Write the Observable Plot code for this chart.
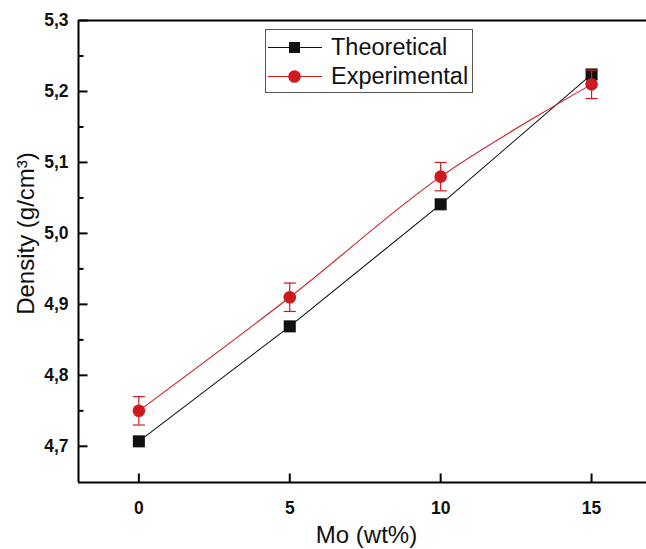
<!DOCTYPE html>
<html>
<head>
<meta charset="utf-8">
<script src="https://cdn.jsdelivr.net/npm/d3@7"></script>
<script src="https://cdn.jsdelivr.net/npm/@observablehq/plot@0.6"></script>
<style>
  body { margin: 0; background: #fff; }
  #wrap { position: relative; width: 646px; height: 549px; overflow: hidden; }
  #legend { position: absolute; left: 265px; top: 29px; width: 206px; height: 62px;
    border: 1px solid #555; background: #fff; font-family: "Liberation Sans", Arial, sans-serif; font-size: 23.5px; }
  .row { position: absolute; left: 0; height: 29px; display: flex; align-items: center; }
  .row svg { margin-left: 2px; }
  .row span { margin-left: 9px; color: #111; }
</style>
</head>
<body>
<div id="wrap"></div>
<script>
const mo = [0, 5, 10, 15];
const theoretical = [4.707, 4.869, 5.041, 5.224];
const experimental = [4.75, 4.91, 5.08, 5.21];
const expError = [0.02, 0.02, 0.02, 0.02];
const yTicks = [4.7, 4.8, 4.9, 5.0, 5.1, 5.2, 5.3];
const yMinorTicks = [4.75, 4.85, 4.95, 5.05, 5.15, 5.25];
const xTicks = [0, 5, 10, 15];
const seriesNames = ["Theoretical", "Experimental"];
const seriesColors = ["#111111", "#cc1a1f"];

const theo = mo.map((x, i) => ({x, y: theoretical[i]}));
const expt = mo.map((x, i) => ({x, y: experimental[i], e: expError[i]}));
const yTickRows = yTicks.map(v => ({v, len: 9}));
const yMinorRows = yMinorTicks.map(v => ({v, len: 5}));
const xTickRows = xTicks.map(v => ({v, len: 9}));

const font = "Liberation Sans, Arial, sans-serif";
const fmt = d => d.toFixed(1).replace(".", ",");
const W = 646, H = 549, ML = 78, MR = 0, MT = 20, MB = 67;
const frameW = W - ML - MR, frameH = H - MT - MB;
const xDomain = [-2, 16.82];
const yDomain = [4.649, 5.3];
const pxX = (xDomain[1] - xDomain[0]) / frameW;
const pxY = (yDomain[1] - yDomain[0]) / frameH;

const chart = Plot.plot({
  width: W,
  height: H,
  marginLeft: ML,
  marginRight: MR,
  marginTop: MT,
  marginBottom: MB,
  style: { fontFamily: font, background: "#fff", fontSize: "17.5px", fontWeight: "bold", color: "#111" },
  x: { domain: xDomain },
  y: { domain: yDomain },
  marks: [
    // inward ticks
    Plot.link([...yTickRows, ...yMinorRows], { x1: () => xDomain[0], x2: d => xDomain[0] + d.len * pxX, y1: "v", y2: "v",
      stroke: "#000", strokeWidth: 2 }),
    Plot.link(xTickRows, { x1: "v", x2: "v", y1: () => yDomain[0], y2: d => yDomain[0] + d.len * pxY,
      stroke: "#000", strokeWidth: 2 }),
    // frame (top, bottom, left)
    Plot.ruleY([yDomain[1]], { stroke: "#000", strokeWidth: 2 }),
    Plot.ruleY([yDomain[0]], { stroke: "#000", strokeWidth: 2 }),
    Plot.ruleX([xDomain[0]], { stroke: "#000", strokeWidth: 2 }),
    // tick labels
    Plot.axisY({ ticks: yTicks, tickSize: 0, tickPadding: 10, tickFormat: fmt, label: null }),
    Plot.axisX({ ticks: xTicks, tickSize: 0, tickPadding: 19, tickFormat: d => String(d), label: null }),
    // axis titles
    Plot.text(["Density (g/cm³)"], { frameAnchor: "left", textAnchor: "middle", dx: -52, dy: -18, rotate: -90,
      fontSize: 24, fontWeight: "normal", fill: "#111" }),
    Plot.text(["Mo (wt%)"], { frameAnchor: "bottom", textAnchor: "middle", dy: 53, dx: 4, lineAnchor: "middle",
      fontSize: 24, fontWeight: "normal", fill: "#111" }),
    // theoretical
    Plot.line(theo, { x: "x", y: "y", stroke: seriesColors[0], strokeWidth: 1.1 }),
    Plot.dot(theo, { x: "x", y: "y", symbol: "square", r: 6.8, fill: seriesColors[0] }),
    // experimental
    Plot.line(expt, { x: "x", y: "y", stroke: seriesColors[1], strokeWidth: 1.1, curve: "catmull-rom" }),
    Plot.ruleX(expt, { x: "x", y1: d => d.y - d.e, y2: d => d.y + d.e, stroke: seriesColors[1], strokeWidth: 1.2 }),
    Plot.link(expt, { x1: d => d.x - 0.2, x2: d => d.x + 0.2, y1: d => d.y - d.e, y2: d => d.y - d.e,
      stroke: seriesColors[1], strokeWidth: 1.2 }),
    Plot.link(expt, { x1: d => d.x - 0.2, x2: d => d.x + 0.2, y1: d => d.y + d.e, y2: d => d.y + d.e,
      stroke: seriesColors[1], strokeWidth: 1.2 }),
    Plot.dot(expt, { x: "x", y: "y", r: 6.3, fill: seriesColors[1] })
  ]
});

const wrap = document.getElementById("wrap");
wrap.appendChild(chart);

const legend = document.createElement("div");
legend.id = "legend";
seriesNames.forEach((name, i) => {
  const row = document.createElement("div");
  row.className = "row";
  row.style.top = (3 + i * 29) + "px";
  const marker = i === 0
    ? `<rect x="21" y="5" width="11" height="11" fill="${seriesColors[i]}"/>`
    : `<circle cx="26.5" cy="10.5" r="6.3" fill="${seriesColors[i]}"/>`;
  row.innerHTML = `<svg width="54" height="21"><line x1="0" x2="54" y1="10.5" y2="10.5" stroke="${seriesColors[i]}" stroke-width="1.1"/>${marker}</svg><span>${name}</span>`;
  legend.appendChild(row);
});
wrap.appendChild(legend);
</script>
</body>
</html>
